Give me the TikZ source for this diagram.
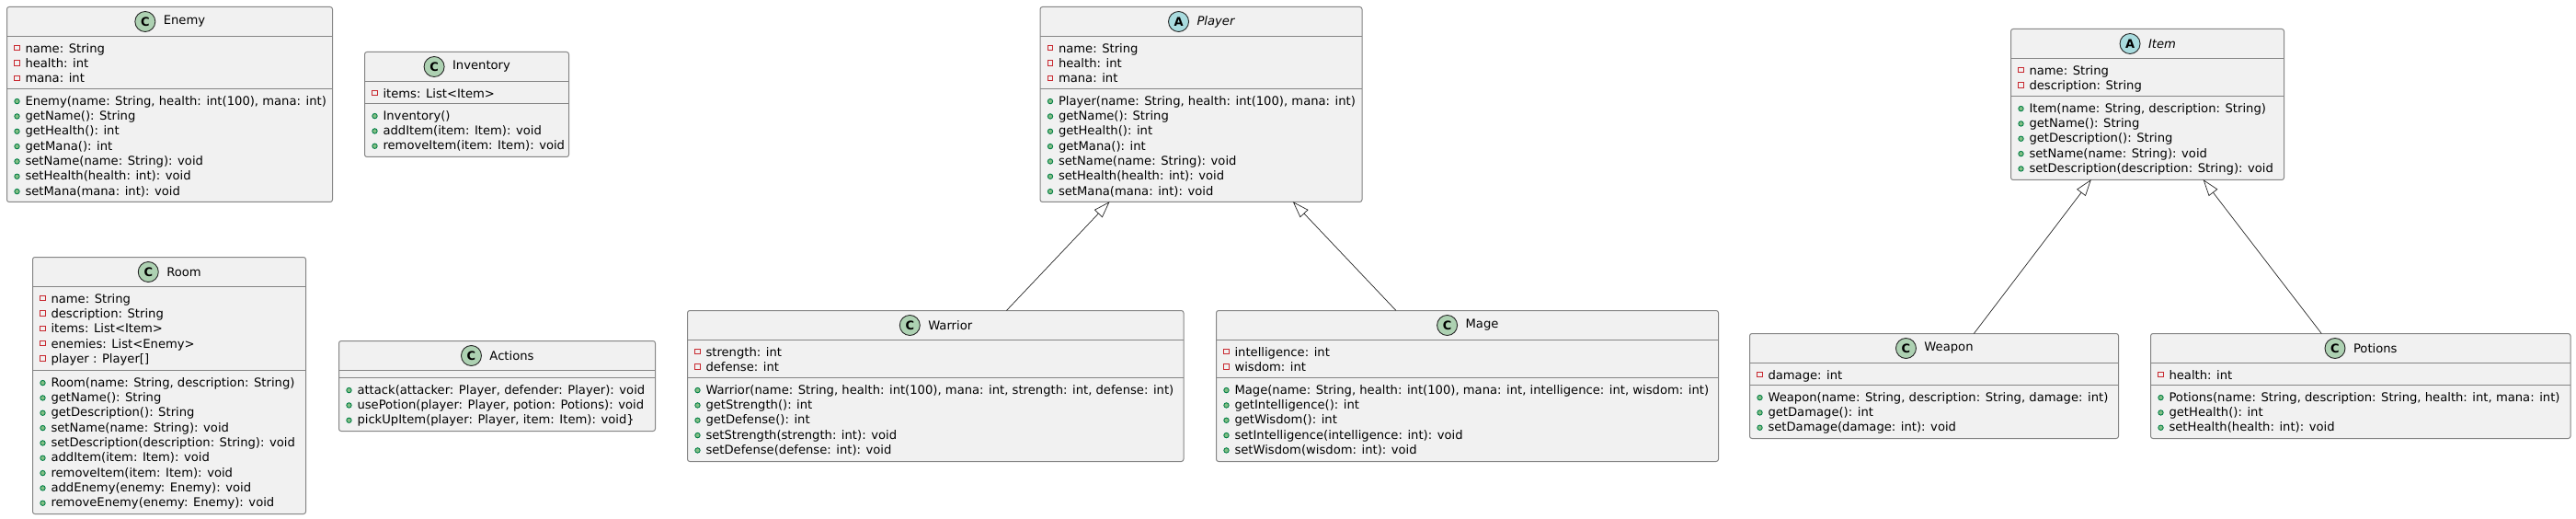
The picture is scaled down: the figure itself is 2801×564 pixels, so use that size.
\documentclass[tikz,border=0pt]{standalone}
\usepackage{fontspec}
\setmainfont{DejaVu Sans}
\usetikzlibrary{positioning, calc, arrows.meta, shapes.geometric}

\definecolor{boxBack}{HTML}{F1F1F1}
\definecolor{boxLine}{HTML}{858585}
\definecolor{classIcon}{HTML}{ADD1B2}
\definecolor{abstractIcon}{HTML}{A9DCDF}
\definecolor{privateLine}{HTML}{C82930}
\definecolor{publicLine}{HTML}{038048}
\definecolor{publicBack}{HTML}{84BE84}

\tikzset{
    classbox/.style={draw=boxLine, fill=boxBack, line width=1pt, rounded corners=2.5pt,
        anchor=north west, inner sep=0pt, outer sep=0pt},
    rule/.style={draw=boxLine, line width=1pt},
    title/.style={inner sep=0pt, outer sep=0pt, font=\fontsize{13.15}{16}\selectfont},
    spot/.style={draw=black!85, line width=0.9pt, ellipse, minimum width=22pt, minimum height=22pt,
        inner sep=0pt, outer sep=0pt, font=\fontsize{13}{16}\selectfont\bfseries},
    row/.style={anchor=base west, inner sep=0pt, outer sep=0pt, font=\fontsize{13.15}{16}\selectfont},
    private/.style={draw=privateLine, line width=0.9pt, minimum size=5.2pt, inner sep=0pt, outer sep=0pt},
    public/.style={draw=publicLine, fill=publicBack, line width=0.9pt, circle, minimum size=5.4pt,
        inner sep=0pt, outer sep=0pt},
    extends/.style={draw=black!85, line width=0.7pt,
        -{Triangle[length=18pt, width=12pt, fill=white]}, shorten >=-0.5pt},
}

\begin{document}
\begin{tikzpicture}[x=1pt, y=-1pt]

    \useasboundingbox (0, 0) rectangle (2801, 564);

    % #1 name, #2 left, #3 top, #4 right, #5 bottom, #6 header rule, #7 body rule
    \def\drawBox#1#2#3#4#5#6#7{
        \node [classbox, minimum width={#4-#2}, minimum height={#5-#3}] (#1) at (#2, #3) {};
        \draw [rule] (#2, #6) -- (#4, #6);
        \draw [rule] (#2, #7) -- (#4, #7);
        \def\boxLeft{#2}
        \def\headMid{#3/2+#6/2}
        \def\attrTop{#6}
        \def\methTop{#7}
        \def\boxMid{#2/2+#4/2}
    }
    % #1 name, #2 spot letter, #3 spot colour, #4 title
    \def\drawTitle#1#2#3#4{
        \node [title] (#1Title) at ({\boxMid+16}, {\headMid}) {#4};
        \node [spot, fill=#3, left=9pt of #1Title] (#1Spot) {#2};
    }
    \def\drawAttrs#1#2{
        \foreach \txt [count=\i] in {#2}{
            \node [private] (#1A\i) at ({\boxLeft+11}, {\attrTop+12.6+(\i-1)*16.33}) {};
            \node [row] (#1AT\i) at ({\boxLeft+20}, {\attrTop+17.6+(\i-1)*16.33}) {\txt};
        }
    }
    \def\drawMeths#1#2{
        \foreach \txt [count=\i] in {#2}{
            \node [public] (#1M\i) at ({\boxLeft+11}, {\methTop+13.6+(\i-1)*16.33}) {};
            \node [row] (#1MT\i) at ({\boxLeft+20}, {\methTop+17.6+(\i-1)*16.33}) {\txt};
        }
    }

    % Enemy
    \drawBox{enemy}{7.5}{7.5}{361.5}{219.5}{39.5}{96.5}
    \drawTitle{enemy}{C}{classIcon}{Enemy}
    \drawAttrs{enemy}{name: String, health: int, mana: int}
    \drawMeths{enemy}{{Enemy(name: String, health: int(100), mana: int)}, getName(): String, getHealth(): int,
        getMana(): int, setName(name: String): void, setHealth(health: int): void, setMana(mana: int): void}

    % Inventory
    \drawBox{inventory}{396.5}{56.5}{618.5}{170.5}{88.5}{112.5}
    \drawTitle{inventory}{C}{classIcon}{Inventory}
    \drawAttrs{inventory}{items: List<Item>}
    \drawMeths{inventory}{Inventory(), addItem(item: Item): void, removeItem(item: Item): void}

    % Room
    \drawBox{room}{35.5}{279.5}{332.5}{558.5}{311.5}{402.5}
    \drawTitle{room}{C}{classIcon}{Room}
    \drawAttrs{room}{name: String, description: String, items: List<Item>, enemies: List<Enemy>, player : Player[]}
    \drawMeths{room}{{Room(name: String, description: String)}, getName(): String, getDescription(): String,
        setName(name: String): void, setDescription(description: String): void, addItem(item: Item): void,
        removeItem(item: Item): void, addEnemy(enemy: Enemy): void, removeEnemy(enemy: Enemy): void}

    % Actions
    \drawBox{actions}{368.5}{370.5}{712.5}{468.5}{402.5}{410.5}
    \drawTitle{actions}{C}{classIcon}{Actions}
    \drawMeths{actions}{{attack(attacker: Player, defender: Player): void}, {usePotion(player: Player, potion: Potions): void},
        {pickUpItem(player: Player, item: Item): void\}}}

    % Player
    \drawBox{player}{1131}{7.5}{1481}{219.5}{39.5}{96.5}
    \drawTitle{player}{A}{abstractIcon}{\itshape Player}
    \drawAttrs{player}{name: String, health: int, mana: int}
    \drawMeths{player}{{Player(name: String, health: int(100), mana: int)}, getName(): String, getHealth(): int,
        getMana(): int, setName(name: String): void, setHealth(health: int): void, setMana(mana: int): void}

    % Warrior
    \drawBox{warrior}{747.5}{337.5}{1287}{501.5}{369.5}{410.5}
    \drawTitle{warrior}{C}{classIcon}{Warrior}
    \drawAttrs{warrior}{strength: int, defense: int}
    \drawMeths{warrior}{{Warrior(name: String, health: int(100), mana: int, strength: int, defense: int)}, getStrength(): int,
        getDefense(): int, setStrength(strength: int): void, setDefense(defense: int): void}

    % Mage
    \drawBox{mage}{1322.5}{337.5}{1868.5}{501.5}{369.5}{410.5}
    \drawTitle{mage}{C}{classIcon}{Mage}
    \drawAttrs{mage}{intelligence: int, wisdom: int}
    \drawMeths{mage}{{Mage(name: String, health: int(100), mana: int, intelligence: int, wisdom: int)}, getIntelligence(): int,
        getWisdom(): int, setIntelligence(intelligence: int): void, setWisdom(wisdom: int): void}

    % Item
    \drawBox{item}{2186.5}{31.5}{2483.5}{195.5}{63.5}{104.5}
    \drawTitle{item}{A}{abstractIcon}{\itshape Item}
    \drawAttrs{item}{name: String, description: String}
    \drawMeths{item}{{Item(name: String, description: String)}, getName(): String, getDescription(): String,
        setName(name: String): void, setDescription(description: String): void}

    % Weapon
    \drawBox{weapon}{1902.5}{362.5}{2303.5}{476.5}{394.5}{418.5}
    \drawTitle{weapon}{C}{classIcon}{Weapon}
    \drawAttrs{weapon}{damage: int}
    \drawMeths{weapon}{{Weapon(name: String, description: String, damage: int)}, getDamage(): int, setDamage(damage: int): void}

    % Potions
    \drawBox{potions}{2338.5}{362.5}{2795}{476.5}{394.5}{418.5}
    \drawTitle{potions}{C}{classIcon}{Potions}
    \drawAttrs{potions}{health: int}
    \drawMeths{potions}{{Potions(name: String, description: String, health: int, mana: int)}, getHealth(): int, setHealth(health: int): void}

    % Inheritance
    \draw [extends] ($(warrior.north west)!0.643!(warrior.north east)$) -- ($(player.south west)!0.215!(player.south east)$);
    \draw [extends] ($(mage.north west)!0.358!(mage.north east)$) -- ($(player.south west)!0.786!(player.south east)$);
    \draw [extends] ($(weapon.north west)!0.608!(weapon.north east)$) -- ($(item.south west)!0.293!(item.south east)$);
    \draw [extends] ($(potions.north west)!0.407!(potions.north east)$) -- ($(item.south west)!0.705!(item.south east)$);
\end{tikzpicture}
\end{document}
